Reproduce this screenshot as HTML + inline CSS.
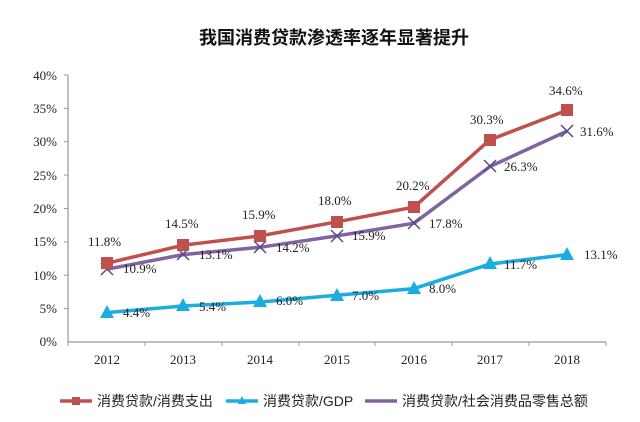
<!DOCTYPE html>
<html><head><meta charset="utf-8"><style>
body{margin:0;background:#fff;}
svg text{font-family:"Liberation Serif","Noto Serif CJK SC",serif;}
svg text.sans{font-family:"Liberation Sans","Noto Sans CJK SC",sans-serif;}
</style></head><body>
<svg width="640" height="417" xmlns="http://www.w3.org/2000/svg">
<text class="sans" x="334" y="44" text-anchor="middle" font-size="18" font-weight="bold" fill="#111">我国消费贷款渗透率逐年显著提升</text>
<g stroke="#999" stroke-width="1.2">
<line x1="68" y1="75" x2="68" y2="342"/>
<line x1="68" y1="342" x2="606" y2="342"/>
</g>
<g stroke="#999">
<line x1="64" y1="75" x2="68" y2="75"/><line x1="64" y1="108.4" x2="68" y2="108.4"/><line x1="64" y1="141.7" x2="68" y2="141.7"/><line x1="64" y1="175.1" x2="68" y2="175.1"/><line x1="64" y1="208.5" x2="68" y2="208.5"/><line x1="64" y1="241.9" x2="68" y2="241.9"/><line x1="64" y1="275.2" x2="68" y2="275.2"/><line x1="64" y1="308.6" x2="68" y2="308.6"/>
<line x1="145" y1="342" x2="145" y2="346"/><line x1="222" y1="342" x2="222" y2="346"/><line x1="299" y1="342" x2="299" y2="346"/><line x1="375" y1="342" x2="375" y2="346"/><line x1="452" y1="342" x2="452" y2="346"/><line x1="529" y1="342" x2="529" y2="346"/><line x1="606" y1="342" x2="606" y2="346"/><line x1="68" y1="342" x2="68" y2="346"/>
</g>
<g font-size="13" text-anchor="end" fill="#222">
<text x="57" y="80">40%</text><text x="57" y="113">35%</text><text x="57" y="146">30%</text><text x="57" y="180">25%</text><text x="57" y="213">20%</text><text x="57" y="246">15%</text><text x="57" y="280">10%</text><text x="57" y="313">5%</text><text x="57" y="346">0%</text>
</g>
<g font-size="13" text-anchor="middle" fill="#222">
<text x="107" y="364">2012</text><text x="183" y="364">2013</text><text x="260" y="364">2014</text><text x="337" y="364">2015</text><text x="414" y="364">2016</text><text x="490" y="364">2017</text><text x="567" y="364">2018</text>
</g>
<polyline fill="none" stroke="#8064A2" stroke-width="3.5" points="107,269.2 183,254.6 260,247.3 337,235.9 414,223.2 490,166.5 567,131.1"/>
<g stroke="#5a4a8a" stroke-width="1.5">
<path d="M101,263 l12,12 M113,263 l-12,12"/><path d="M177,248 l12,12 M189,248 l-12,12"/><path d="M254,241 l12,12 M266,241 l-12,12"/><path d="M331,230 l12,12 M343,230 l-12,12"/><path d="M408,217 l12,12 M420,217 l-12,12"/><path d="M484,160 l12,12 M496,160 l-12,12"/><path d="M561,125 l12,12 M573,125 l-12,12"/>
</g>
<polyline fill="none" stroke="#C0504D" stroke-width="3.5" points="107,263.2 183,245.2 260,235.9 337,221.8 414,207.1 490,139.7 567,110.3"/>
<g fill="#C0504D">
<rect x="101" y="257" width="12" height="12"/><rect x="177" y="239" width="12" height="12"/><rect x="254" y="230" width="12" height="12"/><rect x="331" y="216" width="12" height="12"/><rect x="408" y="201" width="12" height="12"/><rect x="484" y="134" width="12" height="12"/><rect x="561" y="104" width="12" height="12"/>
</g>
<polyline fill="none" stroke="#1BADE0" stroke-width="3.5" points="107,312.6 183,306 260,302 337,295.3 414,288.6 490,264 567,254.6"/>
<g fill="#1BADE0">
<path d="M107,305 l7,13 h-14z"/><path d="M183,298 l7,13 h-14z"/><path d="M260,294 l7,13 h-14z"/><path d="M337,288 l7,13 h-14z"/><path d="M414,281 l7,13 h-14z"/><path d="M490,256 l7,13 h-14z"/><path d="M567,247 l7,13 h-14z"/>
</g>
<g font-size="13" fill="#222">
<text x="88" y="246">11.8%</text><text x="165" y="228">14.5%</text><text x="242" y="219">15.9%</text><text x="318" y="205">18.0%</text><text x="396" y="190">20.2%</text><text x="470" y="124">30.3%</text><text x="549" y="95">34.6%</text>
<text x="123" y="273">10.9%</text><text x="199" y="259">13.1%</text><text x="276" y="252">14.2%</text><text x="352" y="240">15.9%</text><text x="429" y="228">17.8%</text><text x="504" y="171">26.3%</text><text x="580" y="136">31.6%</text>
<text x="123" y="317">4.4%</text><text x="199" y="311">5.4%</text><text x="276" y="305">6.0%</text><text x="352" y="300">7.0%</text><text x="429" y="293">8.0%</text><text x="504" y="269">11.7%</text><text x="584" y="259">13.1%</text>
</g>
<g font-size="14" fill="#222">
<line x1="60" y1="401" x2="92" y2="401" stroke="#C0504D" stroke-width="3.5"/><rect x="72" y="397" width="8" height="8" fill="#C0504D"/>
<text class="sans" x="97" y="406">消费贷款/消费支出</text>
<line x1="226" y1="401" x2="258" y2="401" stroke="#1BADE0" stroke-width="3.5"/><path d="M242,396 l4,8 h-8z" fill="#1BADE0"/>
<text class="sans" x="263" y="406">消费贷款/GDP</text>
<line x1="365" y1="401" x2="397" y2="401" stroke="#8064A2" stroke-width="3.5"/>
<text class="sans" x="402" y="406">消费贷款/社会消费品零售总额</text>
</g>
</svg>
</body></html>
